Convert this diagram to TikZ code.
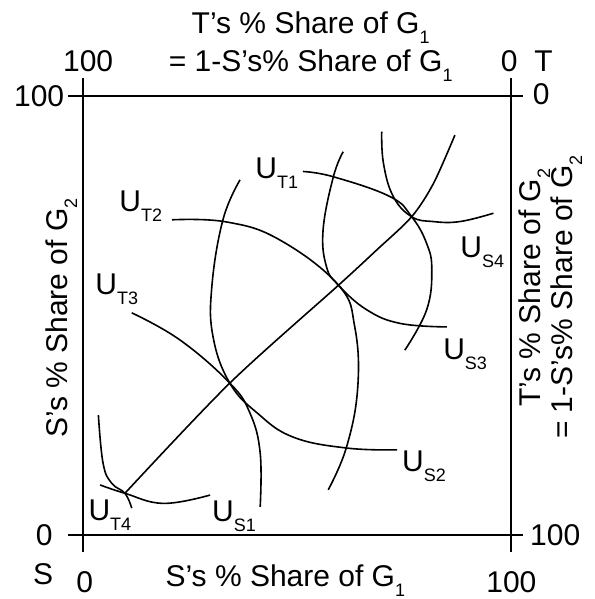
\documentclass[tikz,border=0pt]{standalone}
\usepackage{fontspec}
\setmainfont{Liberation Sans}
\usepackage{tikz}

\newcommand{\lowsub}[1]{\raisebox{-5pt}{\fontsize{9}{10}\selectfont #1}}

\begin{document}
\begin{tikzpicture}[x=2.14pt,y=2.195pt,
  lbl/.style={font=\fontsize{15}{18}\selectfont, inner sep=0pt},
  ic/.style={line width=0.8pt},
  frame/.style={line width=1pt}]
\useasboundingbox (-19.39,-14.58) rectangle (119.63,121.87);

% the box, with a tick at every corner
\draw[frame] (-3.5,0) -- (102.8,0);
\draw[frame] (-3.5,100) -- (102.8,100);
\draw[frame] (0,-3.9) -- (0,104.1);
\draw[frame] (100,-3.9) -- (100,104.1);

% points where the curves touch
\coordinate (e1) at (9.8,9.5);
\coordinate (e2) at (34.3,34.6);
\coordinate (e3) at (59.7,56.9);
\coordinate (e4) at (76.8,72.5);

% contract curve
\draw[ic] plot[smooth] coordinates {(e1) (e2) (e3) (68.6,64.9) (e4) (81.9,80.1) (86.9,91.1)};

% T's curves
\draw[ic] plot[smooth, tension=0.7] coordinates {(51.4,82.8) (58.5,81.6) (71.7,77.1) (e4) (80.3,66.4) (81.5,60.4) (80.3,51.3) (75.2,42.1)};
\draw[ic] plot[smooth, tension=0.7] coordinates {(20.8,71.8) (33.6,71.3) (46.0,67.2) (e3) (63.5,47.4) (64.2,33.7) (61.6,20.1) (57.3,10.3)};
\draw[ic] plot[smooth, tension=0.7] coordinates {(11.4,50.6) (22.7,44.4) (e2) (39.0,27.8) (41.4,18.7) (41.4,6.4)};
\draw[ic] plot[smooth, tension=0.7] coordinates {(3.6,27.3) (4.7,16.3) (6.7,11.8) (e1) (11.4,6.1)};

% S's curves
\draw[ic] plot[smooth, tension=0.7] coordinates {(4.0,11.4) (e1) (18.8,7.2) (29.7,9.1)};
\draw[ic] plot[smooth, tension=0.7] coordinates {(36.7,80.9) (32.7,71.8) (30.1,56.5) (30.4,45.1) (e2) (40.7,27.8) (49.1,22.3) (61.7,19.8) (73.4,19.4)};
\draw[ic] plot[smooth, tension=0.7] coordinates {(60.8,87.3) (58.5,81.6) (56.1,69.5) (56.9,61.1) (e3) (66.3,51.3) (74.1,48.2) (85.0,47.4)};
\draw[ic] plot[smooth, tension=0.7] coordinates {(69.8,91.9) (70.2,84.7) (72.5,77.1) (e4) (81.8,71.4) (88.1,71.4) (95.9,73.3)};

% curve labels
\node[lbl, anchor=base west] (ut1) at (40.2,81.3) {U\lowsub{T1}};
\node[lbl, anchor=base west] (ut2) at (8.4,73.6) {U\lowsub{T2}};
\node[lbl, anchor=base west] (ut3) at (2.8,54.7) {U\lowsub{T3}};
\node[lbl, anchor=base west] (ut4) at (1.2,3.4) {U\lowsub{T4}};
\node[lbl, anchor=base west] (us1) at (30.1,3.0) {U\lowsub{S1}};
\node[lbl, anchor=base west] (us2) at (74.5,14.4) {U\lowsub{S2}};
\node[lbl, anchor=base west] (us3) at (84.1,39.9) {U\lowsub{S3}};
\node[lbl, anchor=base west] (us4) at (88.1,63.1) {U\lowsub{S4}};

% axis numbers
\node[lbl, anchor=east] (l100) at (-4.3,100) {100};
\node[lbl, anchor=east] (l0) at (-7,0) {0};
\node[lbl, anchor=base] (sorig) at (-9.3,-11.2) {S};
\node[lbl, anchor=base] (b0) at (0.4,-13) {0};
\node[lbl, anchor=base] (b100) at (100.1,-13) {100};
\node[lbl, anchor=west] (r0) at (105,100.5) {0};
\node[lbl, anchor=west] (r100) at (104.4,0) {100};
\node[lbl, anchor=base] (t100) at (1.2,105.5) {100};
\node[lbl, anchor=base] (t0) at (99.6,105.5) {0};
\node[lbl, anchor=base] (torig) at (107.6,105.5) {T};

% axis titles
\node[lbl, anchor=base] (top1) at (53.2,114.2) {T's \% Share of G\lowsub{1}};
\node[lbl, anchor=base] (top2) at (53.2,105.5) {= 1-S's\% Share of G\lowsub{1}};
\node[lbl, anchor=base west] (bot) at (19.2,-11.8) {S's \% Share of G\lowsub{1}};
\node[lbl, anchor=base, rotate=90] (left) at (-3.7,49.4) {S's \% Share of G\lowsub{2}};
\node[lbl, anchor=base, rotate=90] (right1) at (106.8,56.3) {T's \% Share of G\lowsub{2}};
\node[lbl, anchor=base, rotate=90] (right2) at (114.3,54.2) {= 1-S's\% Share of G\lowsub{2}};
\end{tikzpicture}
\end{document}
